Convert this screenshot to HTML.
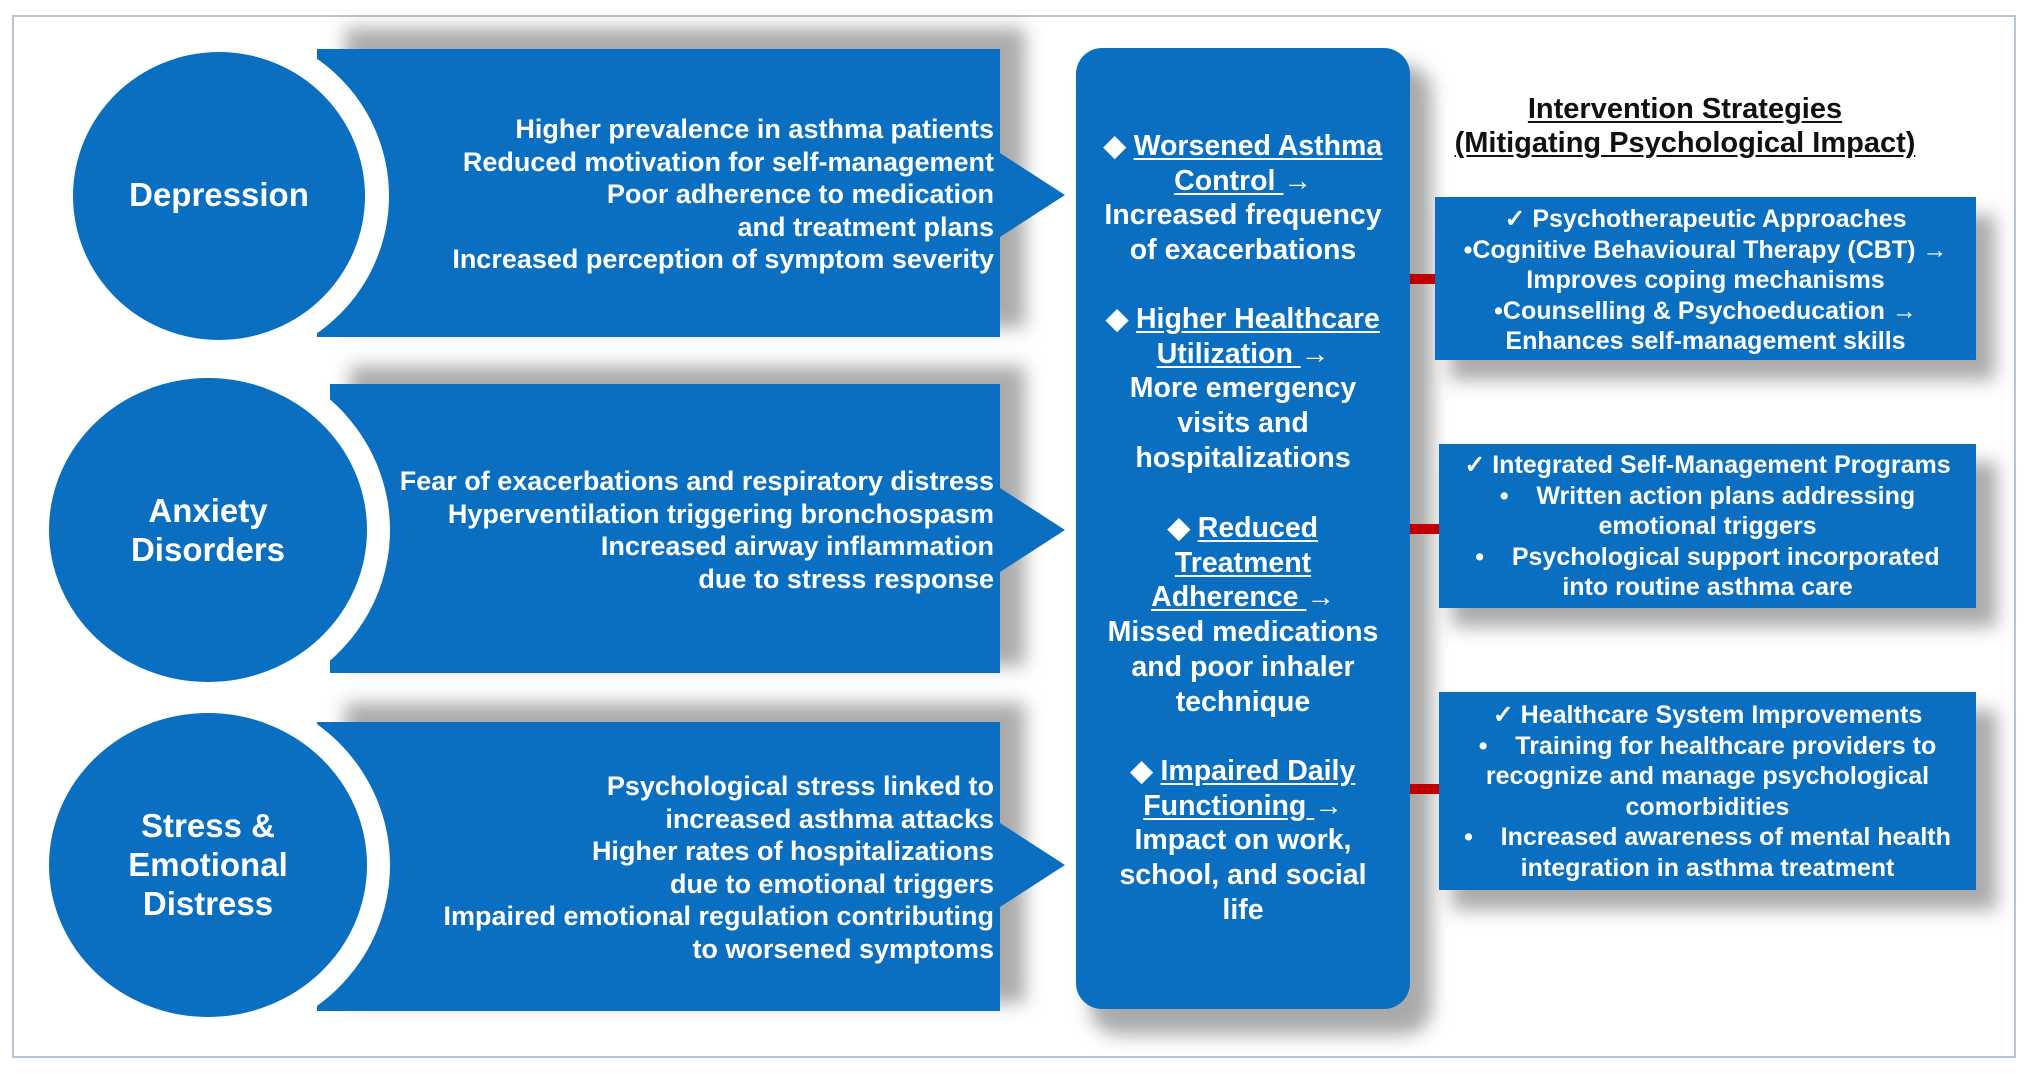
<!DOCTYPE html>
<html><head><meta charset="utf-8"><style>
body{margin:0;width:2032px;height:1073px;background:#fff;position:relative;overflow:hidden;font-family:"Liberation Sans",Arial,sans-serif;font-weight:bold;color:#fff}
.t{position:absolute;white-space:nowrap}
.r{text-align:right;font-size:27px;line-height:32.5px}
.c{text-align:center;font-size:28.5px;line-height:34.7px}
.b{text-align:center;font-size:25px;line-height:30.5px}
.lab{text-align:center;font-size:33px;line-height:39px}
u{text-decoration:underline;text-underline-offset:3px}
</style></head><body>
<svg width="2032" height="1073" style="position:absolute;left:0;top:0">
<defs>
<filter id="sh" x="-20%" y="-20%" width="140%" height="140%"><feGaussianBlur stdDeviation="9"/></filter>
</defs>
<rect x="13" y="16" width="2002" height="1041" fill="none" stroke="#b8c4d4" stroke-width="2"/>
<rect x="345" y="28" width="680" height="300" fill="#666" opacity="0.55" filter="url(#sh)"/>
<rect x="350" y="366" width="675" height="300" fill="#666" opacity="0.55" filter="url(#sh)"/>
<rect x="345" y="703" width="680" height="300" fill="#666" opacity="0.55" filter="url(#sh)"/>
<rect x="1090" y="65" width="342" height="970" rx="28" fill="#666" opacity="0.55" filter="url(#sh)"/>
<rect x="1450" y="215" width="545" height="165" fill="#666" opacity="0.55" filter="url(#sh)"/>
<rect x="1452" y="462" width="545" height="165" fill="#666" opacity="0.55" filter="url(#sh)"/>
<rect x="1452" y="710" width="545" height="200" fill="#666" opacity="0.55" filter="url(#sh)"/>
<g fill="#0a6fc1">
<rect x="317" y="49" width="683" height="288"/>
<polygon points="1000,153 1065,195 1000,237"/>
<rect x="330" y="384" width="670" height="289"/>
<polygon points="1000,488 1065,530 1000,572"/>
<rect x="317" y="722" width="683" height="289"/>
<polygon points="1000,823 1065,865 1000,907"/>
</g>
<ellipse cx="219" cy="196" rx="170" ry="168" fill="#fff"/>
<ellipse cx="219" cy="196" rx="146" ry="144" fill="#0a6fc1"/>
<ellipse cx="208" cy="530" rx="182" ry="176" fill="#fff"/>
<ellipse cx="208" cy="530" rx="159" ry="152" fill="#0a6fc1"/>
<ellipse cx="208" cy="865" rx="182" ry="176" fill="#fff"/>
<ellipse cx="208" cy="865" rx="159" ry="152" fill="#0a6fc1"/>
<rect x="1076" y="48" width="334" height="961" rx="26" fill="#0a6fc1"/>
<rect x="1410" y="274" width="27" height="10" fill="#c00000"/>
<rect x="1410" y="524" width="29" height="10" fill="#c00000"/>
<rect x="1410" y="784" width="29" height="10" fill="#c00000"/>
<rect x="1435" y="197" width="541" height="163" fill="#0a6fc1"/>
<rect x="1439" y="444" width="537" height="164" fill="#0a6fc1"/>
<rect x="1439" y="692" width="537" height="198" fill="#0a6fc1"/>
</svg>

<div class="t lab" style="left:69px;width:300px;top:175px">Depression</div>
<div class="t lab" style="left:58px;width:300px;top:491px">Anxiety<br>Disorders</div>
<div class="t lab" style="left:58px;width:300px;top:806px">Stress &amp;<br>Emotional<br>Distress</div>

<div class="t r" style="right:1038px;top:113px">Higher prevalence in asthma patients<br>Reduced motivation for self-management<br>Poor adherence to medication<br>and treatment plans<br>Increased perception of symptom severity</div>
<div class="t r" style="right:1038px;top:465px">Fear of exacerbations and respiratory distress<br>Hyperventilation triggering bronchospasm<br>Increased airway inflammation<br>due to stress response</div>
<div class="t r" style="right:1038px;top:770px">Psychological stress linked to<br>increased asthma attacks<br>Higher rates of hospitalizations<br>due to emotional triggers<br>Impaired emotional regulation contributing<br>to worsened symptoms</div>

<div class="t c" style="left:1076px;width:334px;top:129px">◆ <u>Worsened Asthma<br>Control </u>→<br>Increased frequency<br>of exacerbations</div>
<div class="t c" style="left:1076px;width:334px;top:302px">◆ <u>Higher Healthcare<br>Utilization </u>→<br>More emergency<br>visits and<br>hospitalizations</div>
<div class="t c" style="left:1076px;width:334px;top:511px">◆ <u>Reduced<br>Treatment<br>Adherence </u>→<br>Missed medications<br>and poor inhaler<br>technique</div>
<div class="t c" style="left:1076px;width:334px;top:754px">◆ <u>Impaired Daily<br>Functioning </u>→<br>Impact on work,<br>school, and social<br>life</div>

<div class="t" style="left:1435px;width:500px;top:92px;text-align:center;font-size:29px;line-height:34px;color:#111"><u>Intervention Strategies</u><br><u>(Mitigating Psychological Impact)</u></div>

<div class="t b" style="left:1435px;width:541px;top:204px">✓ Psychotherapeutic Approaches<br>•Cognitive Behavioural Therapy (CBT) →<br>Improves coping mechanisms<br>•Counselling &amp; Psychoeducation →<br>Enhances self-management skills</div>
<div class="t b" style="left:1439px;width:537px;top:450px">✓ Integrated Self-Management Programs<br>•&nbsp;&nbsp;&nbsp; Written action plans addressing<br>emotional triggers<br>•&nbsp;&nbsp;&nbsp; Psychological support incorporated<br>into routine asthma care</div>
<div class="t b" style="left:1439px;width:537px;top:700px">✓ Healthcare System Improvements<br>•&nbsp;&nbsp;&nbsp; Training for healthcare providers to<br>recognize and manage psychological<br>comorbidities<br>•&nbsp;&nbsp;&nbsp; Increased awareness of mental health<br>integration in asthma treatment</div>
</body></html>
